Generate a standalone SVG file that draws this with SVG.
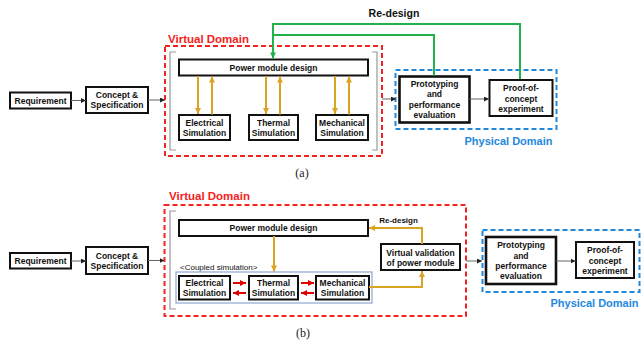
<svg xmlns="http://www.w3.org/2000/svg" width="641" height="344" viewBox="0 0 641 344">
<defs>
<style>
.t{font-family:"Liberation Sans",Arial,sans-serif;font-weight:bold;font-size:8.5px;fill:#111;text-anchor:middle}
.box{fill:#fff;stroke:#111;stroke-width:2}
.thick{fill:#fff;stroke:#111;stroke-width:2.6}
.vd{fill:none;stroke:#f52222;stroke-width:2;stroke-dasharray:5 3}
.pd{fill:none;stroke:#1e88dd;stroke-width:2;stroke-dasharray:5 3}
.vdt{font-family:"Liberation Sans",Arial,sans-serif;font-weight:bold;font-size:11.5px;fill:#f52222}
.pdt{font-family:"Liberation Sans",Arial,sans-serif;font-weight:bold;font-size:11px;fill:#1e88dd;text-anchor:middle}
.br{fill:none;stroke:#9a9a9a;stroke-width:1.2}
.g{fill:none;stroke:#666;stroke-width:1}
.gold{fill:none;stroke:#dba420;stroke-width:2}
.grn{fill:none;stroke:#22b24c;stroke-width:2}
.red{fill:none;stroke:#e00000;stroke-width:2}
.cap{font-family:"Liberation Serif","Times New Roman",serif;font-size:12px;fill:#222;text-anchor:middle}
</style>
<marker id="ag" viewBox="0 0 10 10" refX="10" refY="5" markerWidth="5" markerHeight="5" markerUnits="userSpaceOnUse" orient="auto"><path d="M0,0 L10,5 L0,10 z" fill="#222"/></marker>
<marker id="ay" viewBox="0 0 10 10" refX="10" refY="5" markerWidth="7" markerHeight="6" markerUnits="userSpaceOnUse" orient="auto"><path d="M0,0 L10,5 L0,10 z" fill="#dba420"/></marker>
<marker id="an" viewBox="0 0 10 10" refX="10" refY="5" markerWidth="7" markerHeight="6" markerUnits="userSpaceOnUse" orient="auto"><path d="M0,0 L10,5 L0,10 z" fill="#22b24c"/></marker>
<marker id="ar" viewBox="0 0 10 10" refX="10" refY="5" markerWidth="6" markerHeight="6" markerUnits="userSpaceOnUse" orient="auto"><path d="M0,0 L10,5 L0,10 z" fill="#e00000"/></marker>
</defs>

<!-- Part (a) -->
<g id="a-virtual-domain">
<rect class="vd" x="165" y="46" width="217" height="110"/>
<text class="vdt" x="168" y="43">Virtual Domain</text>
<path class="br" d="M176,52 H170 V150 H176"/>
<path class="br" d="M372,52 H377 V150 H372"/>
</g>
<g id="a-physical-domain">
<rect class="pd" x="395.5" y="70" width="161" height="59"/>
<text class="pdt" x="508.5" y="145">Physical Domain</text>
</g>
<g id="a-requirement"><rect class="box" x="10" y="92.5" width="61" height="16"/><text class="t" x="40.5" y="103.5">Requirement</text></g>
<g id="a-concept"><rect class="box" x="86" y="87" width="62" height="26"/><text class="t" x="117" y="98">Concept &amp;</text><text class="t" x="117" y="108">Specification</text></g>
<g id="a-power"><rect class="box" x="179" y="59.5" width="189" height="16"/><text class="t" x="273.5" y="70.5">Power module design</text></g>
<g id="a-elec"><rect class="box" x="179" y="115" width="51" height="25"/><text class="t" x="204.5" y="126">Electrical</text><text class="t" x="204.5" y="135.5">Simulation</text></g>
<g id="a-therm"><rect class="box" x="249" y="115" width="49" height="25"/><text class="t" x="273.5" y="126">Thermal</text><text class="t" x="273.5" y="135.5">Simulation</text></g>
<g id="a-mech"><rect class="box" x="316" y="115" width="52" height="25"/><text class="t" x="342" y="126">Mechanical</text><text class="t" x="342" y="135.5">Simulation</text></g>
<g id="a-proto"><rect class="thick" x="399.5" y="76.5" width="70" height="46"/><text class="t" x="434.5" y="87">Prototyping</text><text class="t" x="434.5" y="97.3">and</text><text class="t" x="434.5" y="107.6">performance</text><text class="t" x="434.5" y="117.9">evaluation</text></g>
<g id="a-proof"><rect class="box" x="489.5" y="80" width="63" height="36"/><text class="t" x="521" y="91">Proof-of-</text><text class="t" x="521" y="101.5">concept</text><text class="t" x="521" y="112">experiment</text></g>
<text class="t" style="font-size:10.5px" x="394" y="17">Re-design</text>
<text class="cap" x="302" y="177">(a)</text>

<g id="a-connectors">
<path class="g" d="M71,100.5 H86" marker-end="url(#ag)"/>
<path class="g" d="M148,100 H165" marker-end="url(#ag)"/>
<path class="g" d="M382,99 H396" marker-end="url(#ag)"/>
<path class="g" d="M469.5,99 H489" marker-end="url(#ag)"/>
<path class="gold" d="M198,76 V114" marker-end="url(#ay)"/>
<path class="gold" d="M212,114.5 V76.5" marker-end="url(#ay)"/>
<path class="gold" d="M266,76 V114" marker-end="url(#ay)"/>
<path class="gold" d="M280,114.5 V76.5" marker-end="url(#ay)"/>
<path class="gold" d="M335,76 V114" marker-end="url(#ay)"/>
<path class="gold" d="M349,114.5 V76.5" marker-end="url(#ay)"/>
<path class="grn" d="M520,79 V24 H273 V58.5" marker-end="url(#an)"/>
<path class="grn" d="M434,75.5 V35 H273"/>
</g>

<!-- Part (b) -->
<g id="b-virtual-domain">
<rect class="vd" x="164.5" y="205" width="301.5" height="111"/>
<text class="vdt" x="169" y="200">Virtual Domain</text>
<path class="br" d="M176,211 H170 V309 H176"/>
</g>
<g id="b-physical-domain">
<rect class="pd" x="482.5" y="230" width="157" height="62"/>
<text class="pdt" x="594.5" y="307">Physical Domain</text>
</g>
<g id="b-requirement"><rect class="box" x="10" y="253" width="61" height="15.5"/><text class="t" x="40.5" y="263.8">Requirement</text></g>
<g id="b-concept"><rect class="box" x="86" y="247" width="62" height="27"/><text class="t" x="117" y="259">Concept &amp;</text><text class="t" x="117" y="269">Specification</text></g>
<g id="b-power"><rect class="box" x="179" y="220" width="189" height="16"/><text class="t" x="273.5" y="231">Power module design</text></g>
<g id="b-coupled">
<text class="t" style="font-size:8px;font-weight:normal;text-anchor:start" x="180" y="270">&lt;Coupled simulation&gt;</text>
<rect x="176" y="272" width="196" height="31" fill="none" stroke="#8ea6cf" stroke-width="1.2"/>
</g>
<g id="b-elec"><rect class="box" x="179" y="276" width="51" height="23.5"/><text class="t" x="204.5" y="286">Electrical</text><text class="t" x="204.5" y="296">Simulation</text></g>
<g id="b-therm"><rect class="box" x="249" y="276" width="49" height="23.5"/><text class="t" x="273.5" y="286">Thermal</text><text class="t" x="273.5" y="296">Simulation</text></g>
<g id="b-mech"><rect class="box" x="316" y="276" width="53" height="23.5"/><text class="t" x="342.5" y="286">Mechanical</text><text class="t" x="342.5" y="296">Simulation</text></g>
<g id="b-validation"><rect class="box" x="381" y="244" width="79" height="26"/><text class="t" x="420.5" y="256">Virtual validation</text><text class="t" x="420.5" y="266">of power module</text></g>
<text class="t" style="font-size:8px" x="398.5" y="223">Re-design</text>
<g id="b-proto"><rect class="thick" x="486" y="237" width="70" height="47"/><text class="t" x="521" y="248">Prototyping</text><text class="t" x="521" y="258.5">and</text><text class="t" x="521" y="269">performance</text><text class="t" x="521" y="279">evaluation</text></g>
<g id="b-proof"><rect class="box" x="576" y="242" width="58" height="36"/><text class="t" x="605" y="253">Proof-of-</text><text class="t" x="605" y="263.5">concept</text><text class="t" x="605" y="274">experiment</text></g>
<text class="cap" x="303" y="337">(b)</text>

<g id="b-connectors">
<path class="g" d="M71,261 H86" marker-end="url(#ag)"/>
<path class="g" d="M148,260.5 H164.5" marker-end="url(#ag)"/>
<path class="g" d="M466,261 H482" marker-end="url(#ag)"/>
<path class="g" d="M556,261 H575.5" marker-end="url(#ag)"/>
<path class="gold" d="M274,236 V271.5" marker-end="url(#ay)"/>
<path class="gold" d="M369,287 H422 V271" marker-end="url(#ay)"/>
<path class="gold" d="M422,244 V228 H369" marker-end="url(#ay)"/>
<path class="red" d="M233,283 H246" marker-end="url(#ar)"/>
<path class="red" d="M246,293 H233" marker-end="url(#ar)"/>
<path class="red" d="M301,283 H314" marker-end="url(#ar)"/>
<path class="red" d="M314,293 H301" marker-end="url(#ar)"/>
</g>
</svg>
